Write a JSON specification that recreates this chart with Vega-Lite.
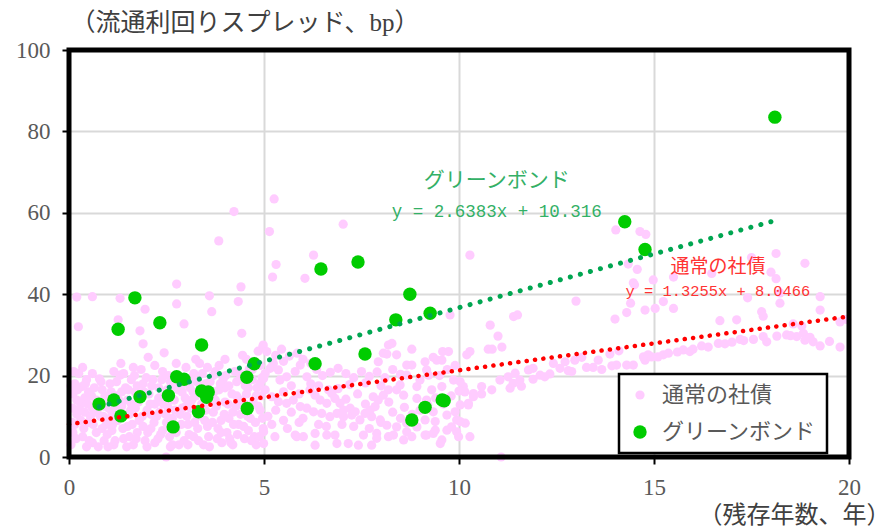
{
"$schema": "https://vega.github.io/schema/vega-lite/v6.json",
"width": 780, "height": 407,
"autosize": {"type": "none"},
"padding": {"left": 69, "top": 50, "right": 46, "bottom": 74},
"background": "white",
"config": {
  "view": {"stroke": null},
  "axisX": {"labelFont": "Liberation Serif", "labelFontSize": 23, "labelColor": "#595959", "labelPadding": 12, "labelFlush": false, "tickSize": 7, "tickWidth": 2, "tickColor": "black", "grid": true, "gridColor": "#D9D9D9", "gridWidth": 2, "domain": false,
    "titleFont": "Liberation Serif, Noto Sans CJK JP", "titleFontSize": 24, "titleFontWeight": "normal", "titleColor": "#404040", "titleAlign": "right", "titleX": 821, "titleY": 58, "titleBaseline": "middle"},
  "axisY": {"labelFont": "Liberation Serif", "labelFontSize": 23, "labelColor": "#595959", "labelPadding": 12, "labelFlush": false, "tickSize": 7, "tickWidth": 2, "tickColor": "black", "grid": true, "gridColor": "#D9D9D9", "gridWidth": 2, "domain": false,
    "titleFont": "Liberation Serif, Noto Sans CJK JP", "titleFontSize": 25, "titleFontWeight": "normal", "titleColor": "#404040", "titleAngle": 0, "titleAlign": "left", "titleX": 1, "titleY": -28, "titleBaseline": "middle"},
  "legend": {"strokeColor": "black", "strokeWidth": 2.5, "fillColor": "white", "padding": 10}
},
"encoding": {
  "x": {"field": "x", "type": "quantitative", "scale": {"domain": [0, 20], "nice": false, "zero": false}, "axis": {"values": [0, 5, 10, 15, 20], "title": "（残存年数、年）"}},
  "y": {"field": "y", "type": "quantitative", "scale": {"domain": [0, 100], "nice": false, "zero": false}, "axis": {"values": [0, 20, 40, 60, 80, 100], "title": "（流通利回りスプレッド、bp）"}}
},
"layer": [
{
  "data": {"values": [
{"x":0.05,"y":3,"s":"通常の社債"},{"x":0.1,"y":12,"s":"通常の社債"},{"x":0.1,"y":15.5,"s":"通常の社債"},{"x":0.15,"y":8,"s":"通常の社債"},{"x":0.15,"y":18,"s":"通常の社債"},{"x":0.2,"y":10.5,"s":"通常の社債"},{"x":0.2,"y":39.3,"s":"通常の社債"},{"x":0.24,"y":32,"s":"通常の社債"},{"x":0.3,"y":13,"s":"通常の社債"},{"x":0.33,"y":17.3,"s":"通常の社債"},{"x":0.35,"y":5,"s":"通常の社債"},{"x":0.4,"y":11,"s":"通常の社債"},{"x":0.4,"y":14.5,"s":"通常の社債"},{"x":0.45,"y":19,"s":"通常の社債"},{"x":0.5,"y":8.5,"s":"通常の社債"},{"x":0.5,"y":16,"s":"通常の社債"},{"x":0.6,"y":39.4,"s":"通常の社債"},{"x":0.6,"y":12,"s":"通常の社債"},{"x":0.6,"y":3.5,"s":"通常の社債"},{"x":0.7,"y":14,"s":"通常の社債"},{"x":0.7,"y":6,"s":"通常の社債"},{"x":0.78,"y":19.2,"s":"通常の社債"},{"x":0.8,"y":10,"s":"通常の社債"},{"x":0.85,"y":16.5,"s":"通常の社債"},{"x":0.9,"y":4,"s":"通常の社債"},{"x":0.9,"y":12.5,"s":"通常の社債"},{"x":0.95,"y":8,"s":"通常の社債"},
{"x":1.0,"y":14.5,"s":"通常の社債"},{"x":1.05,"y":18,"s":"通常の社債"},{"x":1.1,"y":6.5,"s":"通常の社債"},{"x":1.1,"y":11,"s":"通常の社債"},{"x":1.15,"y":3,"s":"通常の社債"},{"x":1.2,"y":15,"s":"通常の社債"},{"x":1.25,"y":9,"s":"通常の社債"},{"x":1.31,"y":20.1,"s":"通常の社債"},{"x":1.33,"y":23,"s":"通常の社債"},{"x":1.26,"y":33.7,"s":"通常の社債"},{"x":1.31,"y":39,"s":"通常の社債"},{"x":1.35,"y":12.5,"s":"通常の社債"},{"x":1.4,"y":4.5,"s":"通常の社債"},{"x":1.45,"y":17,"s":"通常の社債"},{"x":1.5,"y":7.5,"s":"通常の社債"},{"x":1.5,"y":14,"s":"通常の社債"},{"x":1.55,"y":10.5,"s":"通常の社債"},{"x":1.6,"y":19,"s":"通常の社債"},{"x":1.65,"y":3,"s":"通常の社債"},{"x":1.7,"y":12,"s":"通常の社債"},{"x":1.7,"y":16,"s":"通常の社債"},{"x":1.75,"y":6,"s":"通常の社債"},{"x":1.82,"y":31,"s":"通常の社債"},{"x":1.8,"y":9,"s":"通常の社債"},{"x":1.85,"y":14.5,"s":"通常の社債"},{"x":1.9,"y":27.8,"s":"通常の社債"},{"x":1.9,"y":18,"s":"通常の社債"},{"x":1.95,"y":36.3,"s":"通常の社債"},{"x":1.95,"y":4,"s":"通常の社債"},{"x":2.0,"y":11.5,"s":"通常の社債"},
{"x":2.03,"y":24.5,"s":"通常の社債"},{"x":2.05,"y":15.5,"s":"通常の社債"},{"x":2.1,"y":7,"s":"通常の社債"},{"x":2.15,"y":19,"s":"通常の社債"},{"x":2.2,"y":3.5,"s":"通常の社債"},{"x":2.2,"y":13,"s":"通常の社債"},{"x":2.25,"y":10,"s":"通常の社債"},{"x":2.3,"y":17,"s":"通常の社債"},{"x":2.35,"y":5.5,"s":"通常の社債"},{"x":2.4,"y":21,"s":"通常の社債"},{"x":2.44,"y":25.6,"s":"通常の社債"},{"x":2.45,"y":15,"s":"通常の社債"},{"x":2.49,"y":0,"s":"通常の社債"},{"x":2.5,"y":8.5,"s":"通常の社債"},{"x":2.55,"y":12,"s":"通常の社債"},{"x":2.6,"y":18.5,"s":"通常の社債"},{"x":2.65,"y":3,"s":"通常の社債"},{"x":2.7,"y":14,"s":"通常の社債"},{"x":2.76,"y":42.5,"s":"通常の社債"},{"x":2.76,"y":37.6,"s":"通常の社債"},{"x":2.75,"y":6,"s":"通常の社債"},{"x":2.8,"y":20,"s":"通常の社債"},{"x":2.85,"y":10.5,"s":"通常の社債"},{"x":2.9,"y":16,"s":"通常の社債"},{"x":2.95,"y":32.7,"s":"通常の社債"},{"x":2.95,"y":4,"s":"通常の社債"},{"x":3.0,"y":12.5,"s":"通常の社債"},{"x":3.0,"y":22,"s":"通常の社債"},
{"x":3.05,"y":8,"s":"通常の社債"},{"x":3.1,"y":17,"s":"通常の社債"},{"x":3.15,"y":14,"s":"通常の社債"},{"x":3.2,"y":5,"s":"通常の社債"},{"x":3.2,"y":20.5,"s":"通常の社債"},{"x":3.3,"y":10,"s":"通常の社債"},{"x":3.35,"y":23,"s":"通常の社債"},{"x":3.4,"y":13,"s":"通常の社債"},{"x":3.45,"y":3,"s":"通常の社債"},{"x":3.5,"y":18,"s":"通常の社債"},{"x":3.55,"y":7.5,"s":"通常の社債"},{"x":3.6,"y":39.6,"s":"通常の社債"},{"x":3.6,"y":15,"s":"通常の社債"},{"x":3.66,"y":35.7,"s":"通常の社債"},{"x":3.7,"y":11,"s":"通常の社債"},{"x":3.75,"y":21,"s":"通常の社債"},{"x":3.8,"y":4.5,"s":"通常の社債"},{"x":3.84,"y":53.1,"s":"通常の社債"},{"x":3.85,"y":16.5,"s":"通常の社債"},{"x":3.9,"y":9,"s":"通常の社債"},{"x":3.95,"y":19,"s":"通常の社債"},{"x":4.0,"y":13.5,"s":"通常の社債"},{"x":4.0,"y":24,"s":"通常の社債"},
{"x":4.05,"y":6,"s":"通常の社債"},{"x":4.1,"y":17.5,"s":"通常の社債"},{"x":4.15,"y":3.5,"s":"通常の社債"},{"x":4.2,"y":11,"s":"通常の社債"},{"x":4.23,"y":60.3,"s":"通常の社債"},{"x":4.25,"y":21,"s":"通常の社債"},{"x":4.3,"y":15,"s":"通常の社債"},{"x":4.34,"y":38.2,"s":"通常の社債"},{"x":4.35,"y":8,"s":"通常の社債"},{"x":4.41,"y":41.8,"s":"通常の社債"},{"x":4.43,"y":30.4,"s":"通常の社債"},{"x":4.45,"y":19,"s":"通常の社債"},{"x":4.5,"y":4.5,"s":"通常の社債"},{"x":4.5,"y":13,"s":"通常の社債"},{"x":4.55,"y":24,"s":"通常の社債"},{"x":4.6,"y":17,"s":"通常の社債"},{"x":4.65,"y":9.5,"s":"通常の社債"},{"x":4.7,"y":21.5,"s":"通常の社債"},{"x":4.75,"y":5,"s":"通常の社債"},{"x":4.8,"y":15,"s":"通常の社債"},{"x":4.85,"y":26,"s":"通常の社債"},{"x":4.9,"y":11.5,"s":"通常の社債"},{"x":4.95,"y":19.5,"s":"通常の社債"},{"x":4.98,"y":27.5,"s":"通常の社債"},{"x":4.98,"y":7,"s":"通常の社債"},
{"x":0.1,"y":6,"s":"通常の社債"},{"x":0.2,"y":14,"s":"通常の社債"},{"x":0.25,"y":20.5,"s":"通常の社債"},{"x":0.3,"y":9,"s":"通常の社債"},{"x":0.45,"y":2.5,"s":"通常の社債"},{"x":0.55,"y":10,"s":"通常の社債"},{"x":0.65,"y":17,"s":"通常の社債"},{"x":0.8,"y":13.5,"s":"通常の社債"},{"x":0.85,"y":7,"s":"通常の社債"},{"x":1.0,"y":2.5,"s":"通常の社債"},{"x":1.05,"y":9.5,"s":"通常の社債"},{"x":1.2,"y":12.5,"s":"通常の社債"},{"x":1.35,"y":16,"s":"通常の社債"},{"x":1.4,"y":20.5,"s":"通常の社債"},{"x":1.55,"y":5,"s":"通常の社債"},{"x":1.6,"y":13,"s":"通常の社債"},{"x":1.75,"y":17.5,"s":"通常の社債"},{"x":1.9,"y":7.5,"s":"通常の社債"},{"x":2.0,"y":2.5,"s":"通常の社債"},{"x":2.1,"y":10.5,"s":"通常の社債"},{"x":2.3,"y":14.5,"s":"通常の社債"},{"x":2.4,"y":6.5,"s":"通常の社債"},{"x":2.55,"y":20,"s":"通常の社債"},{"x":2.6,"y":2.5,"s":"通常の社債"},{"x":2.65,"y":9.5,"s":"通常の社債"},{"x":2.8,"y":16.5,"s":"通常の社債"},{"x":2.9,"y":12,"s":"通常の社債"},{"x":3.05,"y":3,"s":"通常の社債"},{"x":3.1,"y":19,"s":"通常の社債"},{"x":3.25,"y":15,"s":"通常の社債"},{"x":3.3,"y":7,"s":"通常の社債"},{"x":3.45,"y":17.5,"s":"通常の社債"},{"x":3.5,"y":11.5,"s":"通常の社債"},{"x":3.6,"y":2.5,"s":"通常の社債"},{"x":3.7,"y":20,"s":"通常の社債"},{"x":3.75,"y":14,"s":"通常の社債"},{"x":3.9,"y":6,"s":"通常の社債"},{"x":4.0,"y":17,"s":"通常の社債"},{"x":4.1,"y":9.5,"s":"通常の社債"},{"x":4.2,"y":3,"s":"通常の社債"},{"x":4.3,"y":18.5,"s":"通常の社債"},{"x":4.4,"y":10.5,"s":"通常の社債"},{"x":4.55,"y":15.5,"s":"通常の社債"},{"x":4.6,"y":6.5,"s":"通常の社債"},{"x":4.7,"y":19,"s":"通常の社債"},{"x":4.8,"y":3,"s":"通常の社債"},{"x":4.85,"y":12.5,"s":"通常の社債"},{"x":4.9,"y":22.5,"s":"通常の社債"},{"x":0.05,"y":17.5,"s":"通常の社債"},{"x":0.35,"y":22,"s":"通常の社債"},{"x":1.15,"y":21,"s":"通常の社債"},{"x":1.65,"y":22,"s":"通常の社債"},{"x":2.2,"y":22.5,"s":"通常の社債"},{"x":2.75,"y":23,"s":"通常の社債"},{"x":3.25,"y":24,"s":"通常の社債"},{"x":3.85,"y":22.5,"s":"通常の社債"},{"x":4.45,"y":25,"s":"通常の社債"},{"x":0.6,"y":20.5,"s":"通常の社債"},{"x":1.85,"y":21.5,"s":"通常の社債"},{"x":3.55,"y":22,"s":"通常の社債"},
{"x":0.08,"y":8.5,"s":"通常の社債"},{"x":0.12,"y":21,"s":"通常の社債"},{"x":0.18,"y":4.5,"s":"通常の社債"},{"x":0.22,"y":16.5,"s":"通常の社債"},{"x":0.28,"y":11.5,"s":"通常の社債"},{"x":0.38,"y":7,"s":"通常の社債"},{"x":0.42,"y":18,"s":"通常の社債"},{"x":0.48,"y":13,"s":"通常の社債"},{"x":0.52,"y":4,"s":"通常の社債"},{"x":0.58,"y":15,"s":"通常の社債"},{"x":0.62,"y":8,"s":"通常の社債"},{"x":0.72,"y":11,"s":"通常の社債"},{"x":0.75,"y":2.5,"s":"通常の社債"},{"x":0.82,"y":18.5,"s":"通常の社債"},{"x":0.88,"y":10,"s":"通常の社債"},{"x":0.92,"y":15,"s":"通常の社債"},{"x":0.98,"y":5.5,"s":"通常の社債"},{"x":1.02,"y":12,"s":"通常の社債"},{"x":1.08,"y":16,"s":"通常の社債"},{"x":1.12,"y":8,"s":"通常の社債"},{"x":1.18,"y":4,"s":"通常の社債"},{"x":1.22,"y":18.5,"s":"通常の社債"},{"x":1.28,"y":14,"s":"通常の社債"},{"x":1.38,"y":7,"s":"通常の社債"},{"x":1.42,"y":10.5,"s":"通常の社債"},{"x":1.48,"y":2.5,"s":"通常の社債"},{"x":1.52,"y":16.5,"s":"通常の社債"},{"x":1.58,"y":11.5,"s":"通常の社債"},{"x":1.62,"y":8,"s":"通常の社債"},{"x":1.68,"y":20,"s":"通常の社債"},{"x":1.72,"y":4.5,"s":"通常の社債"},{"x":1.78,"y":13.5,"s":"通常の社債"},{"x":1.88,"y":10,"s":"通常の社債"},{"x":1.92,"y":16,"s":"通常の社債"},{"x":1.98,"y":19.5,"s":"通常の社債"},{"x":2.02,"y":6,"s":"通常の社債"},{"x":2.08,"y":13,"s":"通常の社債"},{"x":2.12,"y":17.5,"s":"通常の社債"},{"x":2.18,"y":8.5,"s":"通常の社債"},{"x":2.28,"y":4.5,"s":"通常の社債"},{"x":2.32,"y":11,"s":"通常の社債"},{"x":2.38,"y":19,"s":"通常の社債"},{"x":2.42,"y":13,"s":"通常の社債"},{"x":2.48,"y":10.5,"s":"通常の社債"},{"x":2.52,"y":16.5,"s":"通常の社債"},{"x":2.58,"y":5,"s":"通常の社債"},{"x":2.62,"y":14,"s":"通常の社債"},{"x":2.68,"y":17.5,"s":"通常の社債"},{"x":2.72,"y":11.5,"s":"通常の社債"},{"x":2.82,"y":3,"s":"通常の社債"},{"x":2.88,"y":8,"s":"通常の社債"},{"x":2.92,"y":18,"s":"通常の社債"},{"x":2.98,"y":14.5,"s":"通常の社債"},{"x":3.02,"y":10,"s":"通常の社債"},{"x":3.08,"y":5.5,"s":"通常の社債"},{"x":3.12,"y":12,"s":"通常の社債"},{"x":3.18,"y":16,"s":"通常の社債"},{"x":3.22,"y":8.5,"s":"通常の社債"},{"x":3.28,"y":18.5,"s":"通常の社債"},{"x":3.32,"y":4,"s":"通常の社債"},{"x":3.38,"y":11,"s":"通常の社債"},{"x":3.42,"y":20.5,"s":"通常の社債"},{"x":3.48,"y":9,"s":"通常の社債"},{"x":3.52,"y":13.5,"s":"通常の社債"},{"x":3.58,"y":5,"s":"通常の社債"},{"x":3.62,"y":18.5,"s":"通常の社債"},{"x":3.68,"y":8.5,"s":"通常の社債"},{"x":3.72,"y":16,"s":"通常の社債"},{"x":3.78,"y":12.5,"s":"通常の社債"},{"x":3.82,"y":7,"s":"通常の社債"},{"x":3.88,"y":18,"s":"通常の社債"},{"x":3.92,"y":3.5,"s":"通常の社債"},{"x":3.98,"y":10.5,"s":"通常の社債"},{"x":4.02,"y":20,"s":"通常の社債"},{"x":4.08,"y":13,"s":"通常の社債"},{"x":4.12,"y":4.5,"s":"通常の社債"},{"x":4.18,"y":15.5,"s":"通常の社債"},{"x":4.22,"y":8,"s":"通常の社債"},{"x":4.28,"y":12.5,"s":"通常の社債"},{"x":4.32,"y":5.5,"s":"通常の社債"},{"x":4.38,"y":20.5,"s":"通常の社債"},{"x":4.42,"y":14,"s":"通常の社債"},{"x":4.48,"y":7.5,"s":"通常の社債"},{"x":4.52,"y":17.5,"s":"通常の社債"},{"x":4.58,"y":10,"s":"通常の社債"},{"x":4.62,"y":21.5,"s":"通常の社債"},{"x":4.68,"y":4,"s":"通常の社債"},{"x":4.72,"y":13.5,"s":"通常の社債"},{"x":4.78,"y":8.5,"s":"通常の社債"},{"x":4.82,"y":17,"s":"通常の社債"},{"x":4.88,"y":5,"s":"通常の社債"},{"x":4.92,"y":15,"s":"通常の社債"},{"x":4.96,"y":9.5,"s":"通常の社債"},
{"x":4.97,"y":27.1,"s":"通常の社債"},{"x":5.07,"y":25.9,"s":"通常の社債"},{"x":5.3,"y":25,"s":"通常の社債"},{"x":5.2,"y":22.2,"s":"通常の社債"},{"x":5.03,"y":20.5,"s":"通常の社債"},{"x":5.16,"y":21.8,"s":"通常の社債"},{"x":5.24,"y":23,"s":"通常の社債"},{"x":5.37,"y":21.4,"s":"通常の社債"},{"x":5.41,"y":18.9,"s":"通常の社債"},{"x":5.58,"y":19.7,"s":"通常の社債"},{"x":5.8,"y":21,"s":"通常の社債"},{"x":5.93,"y":22.6,"s":"通常の社債"},{"x":6.1,"y":19.7,"s":"通常の社債"},{"x":4.9,"y":18.1,"s":"通常の社債"},{"x":4.99,"y":19.3,"s":"通常の社債"},{"x":5.03,"y":16.5,"s":"通常の社債"},{"x":5.2,"y":14.8,"s":"通常の社債"},{"x":5.37,"y":13.6,"s":"通常の社債"},{"x":5.58,"y":13.2,"s":"通常の社債"},{"x":5.75,"y":14,"s":"通常の社債"},{"x":5.93,"y":12.4,"s":"通常の社債"},{"x":6.1,"y":12,"s":"通常の社債"},{"x":6.27,"y":11.1,"s":"通常の社債"},{"x":6.48,"y":10.7,"s":"通常の社債"},{"x":6.69,"y":9.9,"s":"通常の社債"},{"x":6.87,"y":10.7,"s":"通常の社債"},{"x":7.04,"y":9.9,"s":"通常の社債"},{"x":7.25,"y":10.3,"s":"通常の社債"},{"x":7.46,"y":9.1,"s":"通常の社債"},{"x":7.76,"y":9.9,"s":"通常の社債"},{"x":7.98,"y":9.1,"s":"通常の社債"},{"x":8.15,"y":7.8,"s":"通常の社債"},{"x":8.4,"y":7.4,"s":"通常の社債"},{"x":8.66,"y":8.3,"s":"通常の社債"},{"x":8.92,"y":7.4,"s":"通常の社債"},{"x":9.13,"y":9.1,"s":"通常の社債"},{"x":9.39,"y":8.7,"s":"通常の社債"},{"x":9.34,"y":5.8,"s":"通常の社債"},{"x":9.17,"y":5.4,"s":"通常の社債"},{"x":9.56,"y":4.2,"s":"通常の社債"},{"x":9.69,"y":6.6,"s":"通常の社債"},{"x":9.94,"y":6.2,"s":"通常の社債"},{"x":9.99,"y":5,"s":"通常の社債"},{"x":10.16,"y":8.3,"s":"通常の社債"},{"x":10.28,"y":5,"s":"通常の社債"},
{"x":6.18,"y":16.5,"s":"通常の社債"},{"x":6.31,"y":15.2,"s":"通常の社債"},{"x":6.44,"y":14,"s":"通常の社債"},{"x":6.61,"y":13.2,"s":"通常の社債"},{"x":6.65,"y":16.5,"s":"通常の社債"},{"x":6.74,"y":15.6,"s":"通常の社債"},{"x":6.82,"y":14.4,"s":"通常の社債"},{"x":6.95,"y":13.2,"s":"通常の社債"},{"x":7.04,"y":11.5,"s":"通常の社債"},{"x":7.21,"y":12,"s":"通常の社債"},{"x":7.34,"y":11.1,"s":"通常の社債"},{"x":7.59,"y":10.7,"s":"通常の社債"},{"x":7.72,"y":11.5,"s":"通常の社債"},{"x":7.85,"y":12.4,"s":"通常の社債"},{"x":7.93,"y":14,"s":"通常の社債"},{"x":8.06,"y":15.2,"s":"通常の社債"},{"x":8.19,"y":16.5,"s":"通常の社債"},{"x":8.4,"y":16.5,"s":"通常の社債"},{"x":8.58,"y":15.2,"s":"通常の社債"},{"x":8.92,"y":14.4,"s":"通常の社債"},{"x":9.17,"y":14,"s":"通常の社債"},{"x":9.34,"y":11.1,"s":"通常の社債"},{"x":9.69,"y":10.3,"s":"通常の社債"},{"x":9.9,"y":11.1,"s":"通常の社債"},{"x":9.94,"y":9.1,"s":"通常の社債"},{"x":9.81,"y":7.4,"s":"通常の社債"},{"x":10.03,"y":12.8,"s":"通常の社債"},{"x":10.24,"y":13.2,"s":"通常の社債"},{"x":10.37,"y":15.6,"s":"通常の社債"},{"x":10.11,"y":17.3,"s":"通常の社債"},{"x":9.86,"y":18.9,"s":"通常の社債"},{"x":9.56,"y":17.3,"s":"通常の社債"},{"x":9.3,"y":16.5,"s":"通常の社債"},{"x":8.92,"y":17.3,"s":"通常の社債"},{"x":8.49,"y":17.7,"s":"通常の社債"},{"x":8.66,"y":20.1,"s":"通常の社債"},{"x":9.0,"y":18.9,"s":"通常の社債"},{"x":9.22,"y":20.1,"s":"通常の社債"},{"x":9.17,"y":21.4,"s":"通常の社債"},
{"x":8.19,"y":27.5,"s":"通常の社債"},{"x":8.28,"y":27.9,"s":"通常の社債"},{"x":8.06,"y":25.5,"s":"通常の社債"},{"x":8.15,"y":25.3,"s":"通常の社債"},{"x":7.93,"y":23.4,"s":"通常の社債"},{"x":8.79,"y":26.5,"s":"通常の社債"},{"x":8.4,"y":25.1,"s":"通常の社債"},{"x":8.66,"y":22.6,"s":"通常の社債"},{"x":8.79,"y":22.6,"s":"通常の社債"},{"x":9.13,"y":23.4,"s":"通常の社債"},{"x":9.34,"y":24.5,"s":"通常の社債"},{"x":9.43,"y":23.8,"s":"通常の社債"},{"x":9.58,"y":25.9,"s":"通常の社債"},{"x":9.73,"y":25.9,"s":"通常の社債"},{"x":9.56,"y":23.8,"s":"通常の社債"},{"x":9.77,"y":34.9,"s":"通常の社債"},{"x":10.28,"y":25.9,"s":"通常の社債"},{"x":10.2,"y":25.1,"s":"通常の社債"},
{"x":4.99,"y":6.2,"s":"通常の社債"},{"x":4.99,"y":3.3,"s":"通常の社債"},{"x":5.28,"y":5,"s":"通常の社債"},{"x":5.8,"y":5.4,"s":"通常の社債"},{"x":5.84,"y":5,"s":"通常の社債"},{"x":6.01,"y":5,"s":"通常の社債"},{"x":6.31,"y":5.8,"s":"通常の社債"},{"x":6.31,"y":2.9,"s":"通常の社債"},{"x":6.61,"y":5.4,"s":"通常の社債"},{"x":6.82,"y":5.4,"s":"通常の社債"},{"x":6.87,"y":3.3,"s":"通常の社債"},{"x":7.16,"y":3.3,"s":"通常の社債"},{"x":7.42,"y":2.9,"s":"通常の社債"},{"x":7.55,"y":5.4,"s":"通常の社債"},{"x":7.76,"y":2.9,"s":"通常の社債"},{"x":7.89,"y":5.8,"s":"通常の社債"},{"x":7.89,"y":4.6,"s":"通常の社債"},{"x":8.19,"y":5,"s":"通常の社債"},{"x":8.32,"y":5.4,"s":"通常の社債"},{"x":8.58,"y":4.2,"s":"通常の社債"},{"x":8.66,"y":6.2,"s":"通常の社債"},{"x":8.79,"y":5,"s":"通常の社債"},{"x":9.13,"y":5.4,"s":"通常の社債"},{"x":9.39,"y":6.6,"s":"通常の社債"},{"x":9.52,"y":3.3,"s":"通常の社債"},
{"x":5.1,"y":10,"s":"通常の社債"},{"x":5.3,"y":11.5,"s":"通常の社債"},{"x":5.5,"y":9,"s":"通常の社債"},{"x":5.7,"y":11,"s":"通常の社債"},{"x":5.9,"y":8.5,"s":"通常の社債"},{"x":5.2,"y":8,"s":"通常の社債"},{"x":5.6,"y":7,"s":"通常の社債"},{"x":6.0,"y":9.5,"s":"通常の社債"},{"x":6.4,"y":8,"s":"通常の社債"},{"x":6.6,"y":7.5,"s":"通常の社債"},{"x":7.0,"y":8,"s":"通常の社債"},{"x":7.3,"y":7.5,"s":"通常の社債"},{"x":7.7,"y":7,"s":"通常の社債"},{"x":8.0,"y":8.5,"s":"通常の社債"},{"x":5.5,"y":16,"s":"通常の社債"},{"x":5.9,"y":15.5,"s":"通常の社債"},{"x":6.4,"y":17.5,"s":"通常の社債"},{"x":6.9,"y":16.8,"s":"通常の社債"},{"x":7.1,"y":14.2,"s":"通常の社債"},{"x":7.6,"y":13,"s":"通常の社債"},{"x":8.3,"y":11,"s":"通常の社債"},{"x":8.5,"y":9.5,"s":"通常の社債"},{"x":9.5,"y":20,"s":"通常の社債"},{"x":9.7,"y":21.5,"s":"通常の社債"},{"x":9.9,"y":22.5,"s":"通常の社債"},
{"x":5.26,"y":63.4,"s":"通常の社債"},{"x":5.14,"y":55.4,"s":"通常の社債"},{"x":7.03,"y":57.2,"s":"通常の社債"},{"x":6.27,"y":49.6,"s":"通常の社債"},{"x":5.31,"y":47.3,"s":"通常の社債"},{"x":5.22,"y":44.2,"s":"通常の社債"},{"x":6.05,"y":43.9,"s":"通常の社債"},
{"x":5.5,"y":23.5,"s":"通常の社債"},{"x":5.65,"y":24.8,"s":"通常の社債"},{"x":5.85,"y":25.5,"s":"通常の社債"},{"x":6.0,"y":24,"s":"通常の社債"},{"x":6.2,"y":23,"s":"通常の社債"},{"x":6.35,"y":21.5,"s":"通常の社債"},{"x":6.5,"y":20,"s":"通常の社債"},{"x":5.45,"y":26.5,"s":"通常の社債"},{"x":5.7,"y":17.5,"s":"通常の社債"},{"x":6.2,"y":18,"s":"通常の社債"},{"x":4.75,"y":23.5,"s":"通常の社債"},{"x":6.7,"y":20.8,"s":"通常の社債"},{"x":6.9,"y":21.8,"s":"通常の社債"},{"x":7.1,"y":20.5,"s":"通常の社債"},{"x":7.3,"y":19.5,"s":"通常の社債"},{"x":7.5,"y":21,"s":"通常の社債"},{"x":7.7,"y":19.8,"s":"通常の社債"},{"x":7.9,"y":20.9,"s":"通常の社債"},{"x":8.1,"y":19.5,"s":"通常の社債"},{"x":8.3,"y":21.5,"s":"通常の社債"},{"x":8.5,"y":20.3,"s":"通常の社債"},{"x":7.2,"y":17.8,"s":"通常の社債"},{"x":7.6,"y":18.2,"s":"通常の社債"},{"x":8.0,"y":17.5,"s":"通常の社債"},{"x":7.4,"y":15.5,"s":"通常の社債"},{"x":7.8,"y":14.8,"s":"通常の社債"},{"x":8.2,"y":13.5,"s":"通常の社債"},{"x":8.6,"y":12.2,"s":"通常の社債"},{"x":8.8,"y":10.5,"s":"通常の社債"},{"x":9.0,"y":11.5,"s":"通常の社債"},{"x":9.2,"y":12.8,"s":"通常の社債"},{"x":9.4,"y":14.5,"s":"通常の社債"},{"x":9.6,"y":13,"s":"通常の社債"},{"x":9.8,"y":15,"s":"通常の社債"},{"x":10.0,"y":16.2,"s":"通常の社債"},
{"x":10.03,"y":18.5,"s":"通常の社債"},{"x":10.15,"y":16,"s":"通常の社債"},{"x":10.24,"y":12.8,"s":"通常の社債"},{"x":10.37,"y":14.8,"s":"通常の社債"},{"x":10.58,"y":17.3,"s":"通常の社債"},{"x":10.58,"y":15.5,"s":"通常の社債"},{"x":10.84,"y":16.5,"s":"通常の社債"},{"x":11.05,"y":18.9,"s":"通常の社債"},{"x":11.26,"y":19.7,"s":"通常の社債"},{"x":11.31,"y":16.9,"s":"通常の社債"},{"x":11.44,"y":20.6,"s":"通常の社債"},{"x":11.39,"y":18.1,"s":"通常の社債"},{"x":11.56,"y":18.9,"s":"通常の社債"},{"x":11.6,"y":17.4,"s":"通常の社債"},{"x":11.78,"y":21.4,"s":"通常の社債"},{"x":11.9,"y":21.8,"s":"通常の社債"},{"x":11.9,"y":19.1,"s":"通常の社債"},{"x":12.08,"y":20.1,"s":"通常の社債"},{"x":12.2,"y":19.7,"s":"通常の社債"},{"x":12.33,"y":20.4,"s":"通常の社債"},{"x":12.42,"y":23,"s":"通常の社債"},{"x":12.59,"y":21.8,"s":"通常の社債"},{"x":12.72,"y":23.4,"s":"通常の社債"},{"x":12.8,"y":21.2,"s":"通常の社債"},{"x":12.89,"y":21,"s":"通常の社債"},{"x":12.97,"y":23.8,"s":"通常の社債"},{"x":13.15,"y":24.5,"s":"通常の社債"},{"x":13.27,"y":22,"s":"通常の社債"},{"x":13.44,"y":22,"s":"通常の社債"},{"x":13.57,"y":23.8,"s":"通常の社債"},{"x":13.66,"y":21.5,"s":"通常の社債"},{"x":13.92,"y":22.4,"s":"通常の社債"},{"x":14.04,"y":22.6,"s":"通常の社債"},{"x":14.3,"y":22.6,"s":"通常の社債"},{"x":14.47,"y":22.6,"s":"通常の社債"},{"x":14.77,"y":23.8,"s":"通常の社債"},{"x":10.03,"y":8.7,"s":"通常の社債"},{"x":11.08,"y":0,"s":"通常の社債"},
{"x":10.75,"y":26.5,"s":"通常の社債"},{"x":10.85,"y":26.5,"s":"通常の社債"},{"x":11.1,"y":27,"s":"通常の社債"},{"x":11.0,"y":29.7,"s":"通常の社債"},{"x":10.8,"y":32.4,"s":"通常の社債"},{"x":11.4,"y":34.5,"s":"通常の社債"},{"x":11.5,"y":34.9,"s":"通常の社債"},{"x":10.28,"y":49.6,"s":"通常の社債"},{"x":13.0,"y":38.3,"s":"通常の社債"},{"x":13.87,"y":25.3,"s":"通常の社債"},{"x":14.1,"y":26.1,"s":"通常の社債"},{"x":14.0,"y":33.9,"s":"通常の社債"},{"x":14.3,"y":35.5,"s":"通常の社債"},{"x":14.4,"y":37.8,"s":"通常の社債"},{"x":14.5,"y":42.3,"s":"通常の社債"},
{"x":14.02,"y":55.8,"s":"通常の社債"},{"x":14.64,"y":55.4,"s":"通常の社債"},{"x":14.79,"y":54.7,"s":"通常の社債"},{"x":18.13,"y":50,"s":"通常の社債"},{"x":18.87,"y":47.6,"s":"通常の社債"},{"x":17.5,"y":49,"s":"通常の社債"},{"x":18.0,"y":45.4,"s":"通常の社債"},{"x":18.13,"y":43.8,"s":"通常の社債"},{"x":14.34,"y":47.4,"s":"通常の社債"},{"x":14.57,"y":46.1,"s":"通常の社債"},{"x":14.47,"y":42.8,"s":"通常の社債"},{"x":14.98,"y":43.5,"s":"通常の社債"},{"x":15.5,"y":44.2,"s":"通常の社債"},{"x":16.48,"y":45.1,"s":"通常の社債"},{"x":19.26,"y":39.4,"s":"通常の社債"},{"x":17.4,"y":39.1,"s":"通常の社債"},{"x":18.23,"y":40.3,"s":"通常の社債"},{"x":18.23,"y":37.8,"s":"通常の社債"},{"x":14.77,"y":36.1,"s":"通常の社債"},{"x":15.03,"y":36.5,"s":"通常の社債"},{"x":15.24,"y":38.2,"s":"通常の社債"},{"x":15.5,"y":36.5,"s":"通常の社債"},{"x":19.26,"y":36.1,"s":"通常の社債"},{"x":17.76,"y":35.7,"s":"通常の社債"},{"x":17.8,"y":34.6,"s":"通常の社債"},{"x":16.69,"y":33.5,"s":"通常の社債"},{"x":17.12,"y":33.7,"s":"通常の社債"},{"x":18.57,"y":32.7,"s":"通常の社債"},{"x":18.79,"y":32.2,"s":"通常の社債"},{"x":19.77,"y":33.2,"s":"通常の社債"},{"x":19.94,"y":33.8,"s":"通常の社債"},{"x":14.73,"y":24.6,"s":"通常の社債"},{"x":14.85,"y":25.1,"s":"通常の社債"},{"x":15.24,"y":25.1,"s":"通常の社債"},{"x":15.75,"y":26.3,"s":"通常の社債"},{"x":15.92,"y":25.9,"s":"通常の社債"},{"x":16.22,"y":27.3,"s":"通常の社債"},{"x":16.39,"y":27,"s":"通常の社債"},{"x":16.65,"y":27.9,"s":"通常の社債"},{"x":16.82,"y":27.8,"s":"通常の社債"},{"x":17.21,"y":28.9,"s":"通常の社債"},{"x":17.55,"y":28.9,"s":"通常の社債"},{"x":17.8,"y":29.6,"s":"通常の社債"},{"x":17.89,"y":28.3,"s":"通常の社債"},{"x":18.15,"y":29.7,"s":"通常の社債"},{"x":18.4,"y":30,"s":"通常の社債"},{"x":18.66,"y":29.6,"s":"通常の社債"},{"x":18.83,"y":30.4,"s":"通常の社債"},{"x":18.87,"y":28.7,"s":"通常の社債"},{"x":19.08,"y":28.3,"s":"通常の社債"},{"x":19.26,"y":27.3,"s":"通常の社債"},{"x":19.77,"y":27,"s":"通常の社債"},{"x":15.37,"y":25.5,"s":"通常の社債"},{"x":14.64,"y":16,"s":"通常の社債"},{"x":14.94,"y":24.6,"s":"通常の社債"},{"x":15.1,"y":24.6,"s":"通常の社債"},{"x":15.6,"y":25.8,"s":"通常の社債"},{"x":16.0,"y":26.5,"s":"通常の社債"},{"x":17.0,"y":28.2,"s":"通常の社債"},{"x":17.3,"y":28.6,"s":"通常の社債"},{"x":18.5,"y":29.8,"s":"通常の社債"},{"x":19.0,"y":29.4,"s":"通常の社債"},{"x":19.5,"y":28.4,"s":"通常の社債"},
{"x":18.1,"y":83.5,"s":"グリーンボンド"},{"x":14.25,"y":57.8,"s":"グリーンボンド"},{"x":14.77,"y":51.0,"s":"グリーンボンド"},{"x":6.46,"y":46.2,"s":"グリーンボンド"},{"x":7.41,"y":47.9,"s":"グリーンボンド"},{"x":1.69,"y":39.1,"s":"グリーンボンド"},{"x":8.74,"y":40.0,"s":"グリーンボンド"},{"x":9.26,"y":35.3,"s":"グリーンボンド"},{"x":8.38,"y":33.7,"s":"グリーンボンド"},{"x":1.26,"y":31.4,"s":"グリーンボンド"},{"x":2.33,"y":33.0,"s":"グリーンボンド"},{"x":3.4,"y":27.5,"s":"グリーンボンド"},{"x":7.59,"y":25.3,"s":"グリーンボンド"},{"x":6.31,"y":22.9,"s":"グリーンボンド"},{"x":4.75,"y":22.9,"s":"グリーンボンド"},{"x":2.76,"y":19.7,"s":"グリーンボンド"},{"x":2.95,"y":19.1,"s":"グリーンボンド"},{"x":4.56,"y":19.6,"s":"グリーンボンド"},{"x":3.4,"y":16.2,"s":"グリーンボンド"},{"x":3.57,"y":16.0,"s":"グリーンボンド"},{"x":2.55,"y":15.1,"s":"グリーンボンド"},{"x":3.53,"y":14.7,"s":"グリーンボンド"},{"x":1.82,"y":14.8,"s":"グリーンボンド"},{"x":1.15,"y":14.0,"s":"グリーンボンド"},{"x":0.77,"y":13.0,"s":"グリーンボンド"},{"x":1.33,"y":10.1,"s":"グリーンボンド"},{"x":3.32,"y":11.1,"s":"グリーンボンド"},{"x":4.57,"y":11.9,"s":"グリーンボンド"},{"x":2.67,"y":7.4,"s":"グリーンボンド"},{"x":9.13,"y":12.2,"s":"グリーンボンド"},{"x":9.57,"y":14.0,"s":"グリーンボンド"},{"x":9.62,"y":13.8,"s":"グリーンボンド"},{"x":8.79,"y":9.1,"s":"グリーンボンド"}
  ]},
  "mark": {"type": "circle", "opacity": 1},
  "encoding": {
    "color": {"field": "s", "type": "nominal", "scale": {"domain": ["通常の社債", "グリーンボンド"], "range": ["#FFCCFF", "#00CC00"]},
      "legend": {"title": null, "orient": "none", "legendX": 550, "legendY": 324, "labelFont": "Noto Sans CJK JP", "labelFontSize": 22, "labelColor": "#595959", "labelOffset": 11, "rowPadding": 15, "symbolType": "circle", "symbolStrokeWidth": 0}},
    "size": {"field": "s", "type": "nominal", "scale": {"domain": ["通常の社債", "グリーンボンド"], "range": [85, 180]},
      "legend": {"title": null, "orient": "none", "legendX": 550, "legendY": 324, "labelFont": "Noto Sans CJK JP", "labelFontSize": 22, "labelColor": "#595959", "labelOffset": 11, "rowPadding": 15, "symbolType": "circle", "symbolStrokeWidth": 0}}
  }
},
{
  "data": {"values": [{"x": 0, "y": 8.0466}, {"x": 20, "y": 34.5566}]},
  "mark": {"type": "line", "color": "#FF0000", "strokeWidth": 4.5, "strokeDash": [0.1, 8.3], "strokeCap": "round"}
},
{
  "data": {"values": [{"x": 0.77, "y": 12.35}, {"x": 18.1, "y": 58.07}]},
  "mark": {"type": "line", "color": "#00A651", "strokeWidth": 5, "strokeDash": [0.1, 10.3], "strokeCap": "round"}
},
{
  "data": {"values": [{"x": 0, "y": 0, "x2": 20, "y2": 100}]},
  "mark": {"type": "rect", "fillOpacity": 0, "stroke": "black", "strokeWidth": 5},
  "encoding": {"x2": {"field": "x2"}, "y2": {"field": "y2"}}
},
{
  "data": {"values": [{"x": 10.97, "y": 67.8, "t": "グリーンボンド"}]},
  "mark": {"type": "text", "font": "Noto Sans CJK JP", "fontSize": 21, "color": "#33B066", "align": "center", "baseline": "middle"},
  "encoding": {"text": {"field": "t"}}
},
{
  "data": {"values": [{"x": 10.97, "y": 60.2, "t": "y = 2.6383x + 10.316"}]},
  "mark": {"type": "text", "font": "Liberation Mono", "fontSize": 17.5, "color": "#33B066", "align": "center", "baseline": "middle"},
  "encoding": {"text": {"field": "t"}}
},
{
  "data": {"values": [{"x": 16.64, "y": 46.7, "t": "通常の社債"}]},
  "mark": {"type": "text", "font": "Noto Sans CJK JP", "fontSize": 19, "color": "#FF3333", "align": "center", "baseline": "middle"},
  "encoding": {"text": {"field": "t"}}
},
{
  "data": {"values": [{"x": 16.64, "y": 40.8, "t": "y = 1.3255x + 8.0466"}]},
  "mark": {"type": "text", "font": "Liberation Mono", "fontSize": 15.4, "color": "#FF3333", "align": "center", "baseline": "middle"},
  "encoding": {"text": {"field": "t"}}
}
]
}
